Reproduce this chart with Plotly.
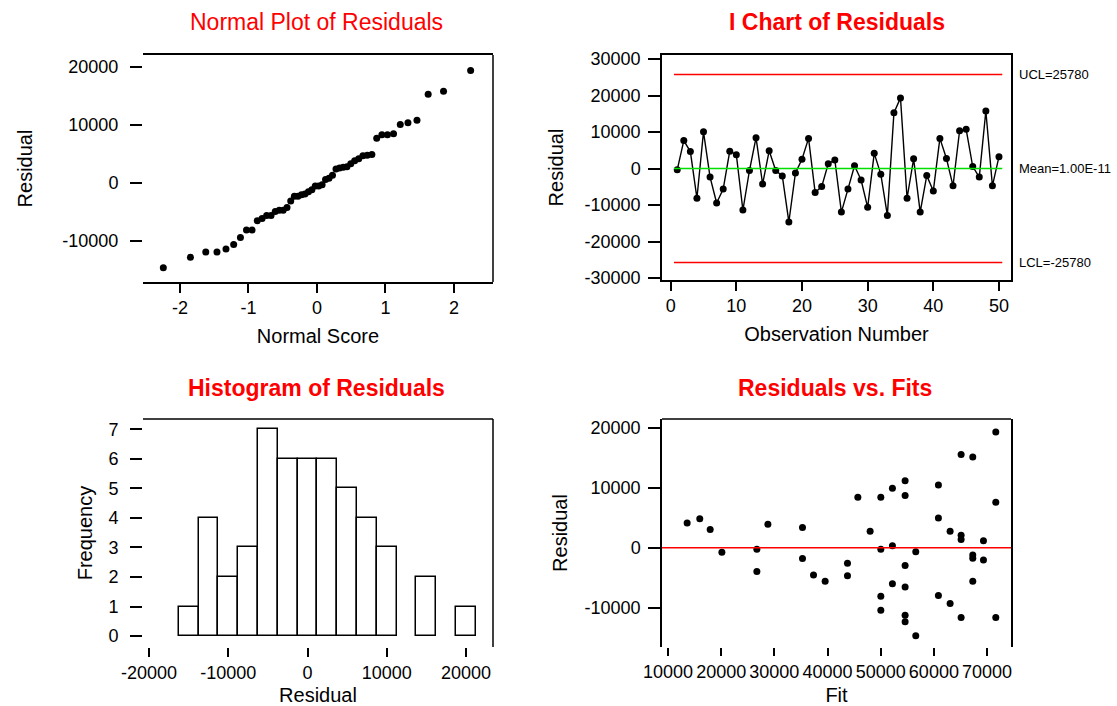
import plotly.graph_objects as go
from statistics import NormalDist

# ---------------- data ----------------
# residuals in observation order (I chart)
residuals = [-350, 7650, 4650, -8150, 10050, -2350, -9450, -5650, 4750, 3800,
             -11400, -550, 8450, -4250, 4850, -550, -2050, -14650, -1200, 2550,
             8250, -6550, -4950, 1300, 2350, -11950, -5650, 750, -3150, -10650,
             4150, -1550, -12850, 15250, 19350, -8150, 2650, -11950, -1950, -6150,
             8250, 2750, -4750, 10350, 10750, 550, -2350, 15750, -4750, 3250]
observations = list(range(1, len(residuals) + 1))

# control limits of the I chart
ucl_value = 25780
mean_value = 0.0
lcl_value = -25780
ucl_label = "UCL=25780"
mean_label = "Mean=1.00E-11"
lcl_label = "LCL=-25780"

# histogram bins (as in the reference)
hist_bin_start = -16250
hist_bin_end = 21250
hist_bin_size = 2500

# residuals versus fitted values
fit_values = [13600, 15970, 17930, 20130, 26710, 26710, 28780, 35290, 35290, 37360,
              39550, 43750, 43750, 45700, 48010, 50020, 50020, 50020, 50020, 52200,
              52200, 52200, 54590, 54590, 54590, 54590, 54590, 54590, 56590, 56590,
              60850, 60850, 60850, 63050, 63050, 65120, 65120, 65120, 65120, 67310,
              67310, 67310, 67310, 69320, 69320, 71640, 71640, 71640]
fit_residuals = [4120, 4840, 3020, -770, -270, -3960, 3900, 3350, -1810, -4560,
                 -5600, -2580, -4670, 8400, 2750, 8400, -270, -8080, -10440, 9890,
                 330, -5990, 11150, 8680, -2970, -6540, -11260, -12360, -660, -14670,
                 10440, 4950, -7970, 2750, -9290, 15550, 2090, 1370, -11650, 15110,
                 -1210, -1760, -5600, 1150, -2030, 19290, 7580, -11650]

# tick values
normal_ticks = [-2, -1, 0, 1, 2]
res_ticks_small = [-10000, 0, 10000, 20000]
ichart_res_ticks = [-30000, -20000, -10000, 0, 10000, 20000, 30000]
obs_ticks = [0, 10, 20, 30, 40, 50]
hist_x_ticks = [-20000, -10000, 0, 10000, 20000]
freq_ticks = [0, 1, 2, 3, 4, 5, 6, 7]
fit_ticks = [10000, 20000, 30000, 40000, 50000, 60000, 70000]

titles = ["Normal Plot of Residuals", "I Chart of Residuals",
          "Histogram of Residuals", "Residuals vs. Fits"]

# normal scores (Blom) for the sorted residuals
sorted_res = sorted(residuals)
n = len(sorted_res)
normal_scores = [NormalDist().inv_cdf((i + 1 - 0.375) / (n + 0.25)) for i in range(n)]

# ---------------- figure ----------------
W, H = 1117, 706
FONT = "Liberation Sans, Arial, sans-serif"
RED = "#ff0000"


def dx(a, b):
    return [a / W, b / W]


def dy(top, bottom):
    return [1 - bottom / H, 1 - top / H]


def labels(vals):
    # plain hyphen-minus, as in the reference
    return [str(v) for v in vals]


fig = go.Figure()

fig.add_trace(go.Scatter(x=normal_scores, y=sorted_res, mode="markers",
                         marker=dict(color="black", size=7),
                         xaxis="x", yaxis="y", showlegend=False))

fig.add_trace(go.Scatter(x=observations, y=residuals, mode="lines+markers",
                         line=dict(color="black", width=1.4),
                         marker=dict(color="black", size=7),
                         xaxis="x2", yaxis="y2", showlegend=False))

fig.add_trace(go.Histogram(x=residuals,
                           xbins=dict(start=hist_bin_start, end=hist_bin_end, size=hist_bin_size),
                           marker=dict(color="white", line=dict(color="black", width=1.5)),
                           xaxis="x3", yaxis="y3", showlegend=False))

fig.add_trace(go.Scatter(x=fit_values, y=fit_residuals, mode="markers",
                         marker=dict(color="black", size=7),
                         xaxis="x4", yaxis="y4", showlegend=False))

tickfont = dict(family=FONT, size=18, color="black")
titlefont = dict(family=FONT, size=20, color="black")

common = dict(showgrid=False, zeroline=False, ticks="outside", tickwidth=1.5,
              tickcolor="black", linecolor="black", linewidth=1.5,
              tickfont=tickfont, tickangle=0, automargin=False, tickmode="array")

layout = dict(
    template="none",
    width=W, height=H, margin=dict(l=0, r=0, t=0, b=0, pad=0),
    paper_bgcolor="white", plot_bgcolor="white", bargap=0,
    font=dict(family=FONT, color="black"),
    xaxis=dict(common, domain=dx(143, 493), range=[-2.54, 2.57],
               tickvals=normal_ticks, ticktext=labels(normal_ticks),
               showline=True, mirror=True, ticklen=9, anchor="y",
               title=dict(text="Normal Score", font=titlefont, standoff=12)),
    yaxis=dict(common, domain=dy(55, 282), range=[-17100, 22000],
               tickvals=res_ticks_small, ticktext=labels(res_ticks_small),
               showline=False, ticklen=12, ticklabelstandoff=8, anchor="x",
               title=dict(text="Residual", font=titlefont, standoff=24)),
    xaxis2=dict(common, domain=dx(662, 1011), range=[-1.32, 51.83],
                tickvals=obs_ticks, ticktext=labels(obs_ticks),
                showline=True, mirror=True, ticklen=9, anchor="y2",
                title=dict(text="Observation Number", font=titlefont, standoff=12)),
    yaxis2=dict(common, domain=dy(55, 280), range=[-30550, 31100],
                tickvals=ichart_res_ticks, ticktext=labels(ichart_res_ticks),
                showline=True, mirror=True, ticklen=12, ticklabelstandoff=4,
                anchor="x2",
                title=dict(text="Residual", font=titlefont, standoff=16)),
    xaxis3=dict(common, domain=dx(143, 493), range=[-20757, 23407],
                tickvals=hist_x_ticks, ticktext=labels(hist_x_ticks),
                showline=False, ticklen=9, anchor="y3",
                title=dict(text="Residual", font=titlefont, standoff=10)),
    yaxis3=dict(common, domain=dy(419, 647), range=[-0.37, 7.35],
                tickvals=freq_ticks, ticktext=labels(freq_ticks),
                showline=False, ticklen=12, ticklabelstandoff=8, anchor="x3",
                title=dict(text="Frequency", font=titlefont, standoff=10)),
    xaxis4=dict(common, domain=dx(662, 1011), range=[8870, 74500],
                tickvals=fit_ticks, ticktext=labels(fit_ticks),
                showline=False, ticklen=8, anchor="y4",
                title=dict(text="Fit", font=titlefont, standoff=10)),
    yaxis4=dict(common, domain=dy(419, 647), range=[-16550, 21450],
                tickvals=res_ticks_small, ticktext=labels(res_ticks_small),
                showline=True, mirror=True, ticklen=12, ticklabelstandoff=4,
                anchor="x4",
                title=dict(text="Residual", font=titlefont, standoff=12)),
)
fig.update_layout(**layout)

# frame pieces
shapes = [
    # normal plot: right edge
    dict(type="line", xref="x domain", yref="y domain", x0=1, x1=1, y0=0, y1=1,
         line=dict(color="black", width=1.5)),
    # histogram: top and right edges
    dict(type="line", xref="x3 domain", yref="y3 domain", x0=0, x1=1, y0=1, y1=1,
         line=dict(color="black", width=1.5)),
    dict(type="line", xref="x3 domain", yref="y3 domain", x0=1, x1=1, y0=0, y1=1,
         line=dict(color="black", width=1.5)),
    # residuals vs fits: top edge
    dict(type="line", xref="x4 domain", yref="y4 domain", x0=0, x1=1, y0=1, y1=1,
         line=dict(color="black", width=1.5)),
    # zero reference line
    dict(type="line", xref="x4 domain", yref="y4", x0=0, x1=1, y0=mean_value, y1=mean_value,
         line=dict(color=RED, width=1.5)),
    # control limits
    dict(type="line", xref="x2", yref="y2", x0=observations[0] - 0.5, x1=observations[-1] + 0.5,
         y0=ucl_value, y1=ucl_value, line=dict(color=RED, width=1.5)),
    dict(type="line", xref="x2", yref="y2", x0=observations[0] - 0.5, x1=observations[-1] + 0.5,
         y0=lcl_value, y1=lcl_value, line=dict(color=RED, width=1.5)),
    dict(type="line", xref="x2", yref="y2", x0=observations[0] - 0.5, x1=observations[-1] + 0.5,
         y0=mean_value, y1=mean_value, line=dict(color="#00e000", width=1.5)),
]
fig.update_layout(shapes=shapes)

annotations = []
# control limit labels
for val, lab in [(ucl_value, ucl_label), (mean_value, mean_label), (lcl_value, lcl_label)]:
    annotations.append(dict(xref="paper", yref="y2", x=1017 / W, y=val, text=lab,
                            showarrow=False, xanchor="left", yanchor="middle",
                            font=dict(family=FONT, size=13, color="black")))
# subplot titles
title_pos = [(316, 22, False), (837, 22, True), (316, 388, True), (835, 388, True)]
for (cx, cy, bold), t in zip(title_pos, titles):
    annotations.append(dict(xref="paper", yref="paper", x=cx / W, y=1 - cy / H,
                            text=f"<b>{t}</b>" if bold else t, showarrow=False,
                            xanchor="center", yanchor="middle",
                            font=dict(family=FONT, size=23, color=RED)))
fig.update_layout(annotations=annotations)

fig.write_html("out.html")
